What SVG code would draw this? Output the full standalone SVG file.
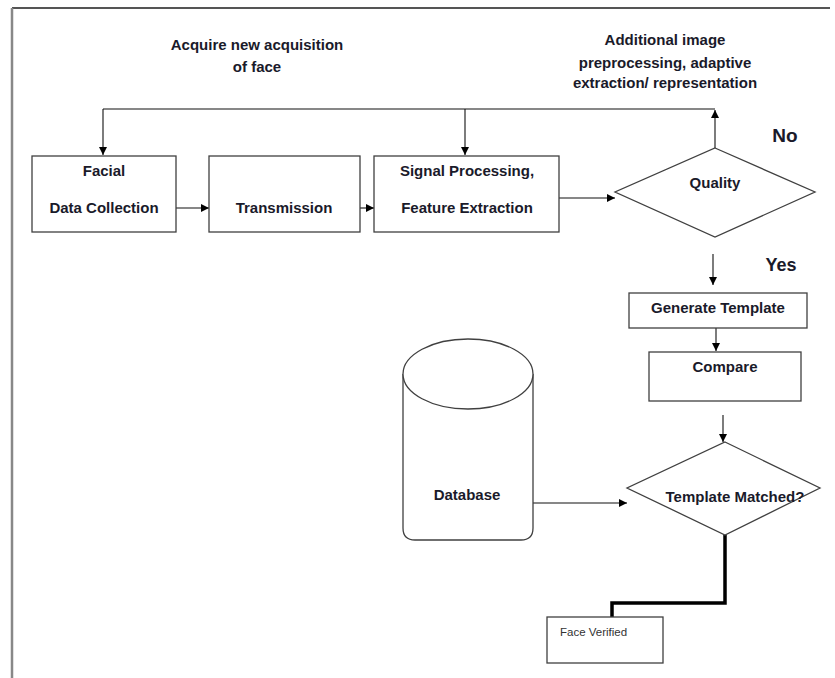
<svg xmlns="http://www.w3.org/2000/svg" width="835" height="678" viewBox="0 0 835 678">
<style>
.box{fill:#fff;stroke:#404040;stroke-width:1.3}
.t{font-family:"Liberation Sans",Arial,sans-serif;font-weight:bold;font-size:15px;fill:#1a1a2a;text-anchor:middle}
.small{font-family:"Liberation Sans",Arial,sans-serif;font-size:11.5px;fill:#333;font-weight:normal}
.c{fill:none;stroke:#111;stroke-width:1.1}
.thick{fill:none;stroke:#000;stroke-width:3.5}
</style>
<defs>
<marker id="ah" viewBox="0 0 10 10" refX="10" refY="5" markerWidth="8" markerHeight="8" markerUnits="userSpaceOnUse" orient="auto">
<path d="M0,0 L10,5 L0,10 z" fill="#000"/>
</marker>
</defs>
<rect width="835" height="678" fill="#fff"/>
<g id="frame">
<line x1="12" y1="8" x2="830" y2="8" stroke="#555" stroke-width="2"/>
<line x1="12" y1="8" x2="12" y2="678" stroke="#888" stroke-width="2.5"/>
</g>
<g id="labels">
<text class="t" x="257" y="50">Acquire new acquisition</text>
<text class="t" x="257" y="72">of face</text>
<text class="t" x="665" y="45">Additional image</text>
<text class="t" x="665" y="68">preprocessing, adaptive</text>
<text class="t" x="665" y="88">extraction/ representation</text>
<text class="t" x="785" y="142" style="font-size:19px">No</text>
<text class="t" x="781" y="271" style="font-size:18px">Yes</text>
</g>
<g id="connectors">
<polyline class="c" points="103,109 715,109"/>
<line class="c" x1="103" y1="109" x2="103" y2="155" marker-end="url(#ah)"/>
<line class="c" x1="465" y1="109" x2="465" y2="155" marker-end="url(#ah)"/>
<line class="c" x1="715" y1="148" x2="715" y2="110" marker-end="url(#ah)"/>
<line class="c" x1="176" y1="208" x2="209" y2="208" marker-end="url(#ah)"/>
<line class="c" x1="360" y1="208" x2="374" y2="208" marker-end="url(#ah)"/>
<line class="c" x1="559" y1="198" x2="615" y2="198" marker-end="url(#ah)"/>
<line class="c" x1="713" y1="254" x2="713" y2="285" marker-end="url(#ah)"/>
<line class="c" x1="716" y1="328" x2="716" y2="351" marker-end="url(#ah)"/>
<line class="c" x1="723" y1="415" x2="723" y2="442" marker-end="url(#ah)"/>
<line class="c" x1="533" y1="503" x2="627" y2="503" marker-end="url(#ah)"/>
<polyline class="thick" points="725,535 725,603 612,603 612,617"/>
</g>
<g id="facial">
<rect class="box" x="32" y="156" width="144" height="76"/>
<text class="t" x="104" y="176">Facial</text>
<text class="t" x="104" y="213">Data Collection</text>
</g>
<g id="transmission">
<rect class="box" x="209" y="156" width="151" height="76"/>
<text class="t" x="284" y="213">Transmission</text>
</g>
<g id="signal">
<rect class="box" x="374" y="156" width="185" height="76"/>
<text class="t" x="467" y="176">Signal Processing,</text>
<text class="t" x="467" y="213">Feature Extraction</text>
</g>
<g id="quality">
<polygon class="box" points="715,148 815,192 715,237 615,192"/>
<text class="t" x="715" y="188">Quality</text>
</g>
<g id="generate">
<rect class="box" x="629" y="293" width="178" height="35"/>
<text class="t" x="718" y="313">Generate Template</text>
</g>
<g id="compare">
<rect class="box" x="649" y="352" width="152" height="49"/>
<text class="t" x="725" y="372">Compare</text>
</g>
<g id="database">
<path class="box" d="M403,374 L403,528 Q403,540 415,540 L521,540 Q533,540 533,528 L533,374"/>
<ellipse class="box" cx="468" cy="374" rx="65" ry="35"/>
<text class="t" x="467" y="500">Database</text>
</g>
<g id="matched">
<polygon class="box" points="725,442 820,488 725,535 627,488"/>
<text class="t" x="735" y="502">Template Matched?</text>
</g>
<g id="verified">
<rect class="box" x="547" y="617" width="116" height="46"/>
<text class="small" x="560" y="636">Face Verified</text>
</g>
</svg>
